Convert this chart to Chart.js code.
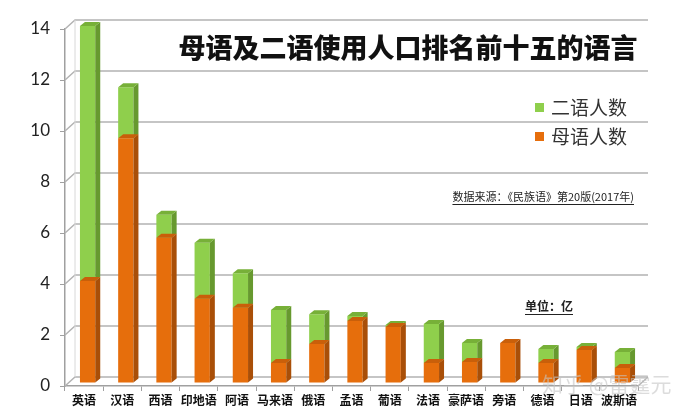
<!DOCTYPE html>
<html>
<head>
<meta charset="utf-8">
<script src="https://cdn.jsdelivr.net/npm/chart.js@4/dist/chart.umd.min.js"></script>
<style>
html,body{margin:0;padding:0;background:#fff;}
#wrap{width:690px;height:413px;position:relative;}
</style>
</head>
<body>
<div id="wrap"><canvas id="c" width="690" height="413"></canvas></div>
<script>
// ---- data ----
const categories = ['英语','汉语','西语','印地语','阿语','马来语','俄语','孟语','葡语','法语','豪萨语','旁语','德语','日语','波斯语'];
const nativeSpeakers = [4.0, 9.6, 5.7, 3.3, 2.95, 0.78, 1.53, 2.43, 2.2, 0.78, 0.82, 1.57, 0.78, 1.29, 0.59];
const secondSpeakers = [10.0, 2.0, 0.9, 2.2, 1.35, 2.08, 1.17, 0.2, 0.07, 1.53, 0.75, 0, 0.55, 0.12, 0.63];
const yTicks = [0, 2, 4, 6, 8, 10, 12, 14];
const seriesNames = ['母语人数', '二语人数'];
const titleText = '母语及二语使用人口排名前十五的语言';
const sourceText = '数据来源：《民族语》第20版(2017年)';
const unitText = '单位：亿';
const watermark = '知乎 @雷霆元';

// ---- style ----
const ORANGE = '#E66E0C', ORANGE_SIDE = '#A94F08', ORANGE_TOP = '#C95F0A';
const GREEN = '#8FCF4C', GREEN_SIDE = '#67992F', GREEN_TOP = '#77B038';
const DEPTH_X = 10, DEPTH_Y = 9;      // wall depth
const BAR_DX = 5, BAR_DY = 4;         // bar depth
const BAR_SHIFT_X = 3.5, BAR_SHIFT_Y = -3;

const wallPlugin = {
  id: 'wall',
  beforeDatasetsDraw(chart) {
    const ctx = chart.ctx, y = chart.scales.y, a = chart.chartArea;
    ctx.save();
    ctx.strokeStyle = '#b3b3b3';
    ctx.lineWidth = 1.5;
    yTicks.forEach(v => {
      const py = y.getPixelForValue(v);
      ctx.beginPath();
      ctx.moveTo(a.left, py);
      ctx.lineTo(a.left + DEPTH_X, py - DEPTH_Y);
      ctx.lineTo(a.right + DEPTH_X, py - DEPTH_Y);
      ctx.stroke();
    });
    const p0 = y.getPixelForValue(0);
    ctx.beginPath();
    ctx.moveTo(a.right, p0);
    ctx.lineTo(a.right + DEPTH_X, p0 - DEPTH_Y);
    ctx.stroke();
    ctx.strokeStyle = '#d8d8d8';
    ctx.lineWidth = 1;
    ctx.beginPath();
    ctx.moveTo(a.left + DEPTH_X, y.getPixelForValue(14) - DEPTH_Y);
    ctx.lineTo(a.left + DEPTH_X, p0 - DEPTH_Y);
    ctx.stroke();
    ctx.restore();
    // shift bars to mid-depth
    ctx.save();
    ctx.translate(BAR_SHIFT_X, BAR_SHIFT_Y);
  },
  afterDatasetDraw(chart, args) {
    const ctx = chart.ctx;
    const meta = args.meta;
    const side = args.index === 0 ? ORANGE_SIDE : GREEN_SIDE;
    const top = args.index === 0 ? ORANGE_TOP : GREEN_TOP;
    meta.data.forEach((bar, i) => {
      const p = bar.getProps(['x','y','base','width'], true);
      if (Math.abs(p.base - p.y) < 0.5) return;
      const l = p.x - p.width / 2, r = p.x + p.width / 2;
      ctx.fillStyle = side;
      ctx.beginPath();
      ctx.moveTo(r, p.y);
      ctx.lineTo(r + BAR_DX, p.y - BAR_DY);
      ctx.lineTo(r + BAR_DX, p.base - BAR_DY);
      ctx.lineTo(r, p.base);
      ctx.closePath();
      ctx.fill();
      ctx.fillStyle = top;
      ctx.beginPath();
      ctx.moveTo(l, p.y);
      ctx.lineTo(l + BAR_DX, p.y - BAR_DY);
      ctx.lineTo(r + BAR_DX, p.y - BAR_DY);
      ctx.lineTo(r, p.y);
      ctx.closePath();
      ctx.fill();
    });
  },
  afterDatasetsDraw(chart) {
    chart.ctx.restore();
  },
  afterDraw(chart) {
    const ctx = chart.ctx;
    ctx.save();
    // title
    ctx.fillStyle = '#111';
    ctx.font = '900 27px "Noto Sans CJK SC"';
    ctx.textAlign = 'center';
    ctx.textBaseline = 'middle';
    ctx.fillText(titleText, 408, 48);
    // legend
    const legend = [[seriesNames[1], GREEN, 108], [seriesNames[0], ORANGE, 137]];
    ctx.font = '19px "Noto Sans CJK SC"';
    ctx.textAlign = 'left';
    legend.forEach(([t, c, yy]) => {
      ctx.fillStyle = c;
      ctx.fillRect(535, yy - 5, 9, 9);
      ctx.fillStyle = '#333';
      ctx.fillText(t, 551, yy);
    });
    // source
    ctx.font = '11px "Noto Sans CJK SC"';
    ctx.fillStyle = '#222';
    ctx.textAlign = 'right';
    ctx.fillText(sourceText, 634, 197);
    let w = ctx.measureText(sourceText).width;
    ctx.fillRect(634 - w, 204, w, 1);
    // unit
    ctx.font = 'bold 12px "Noto Sans CJK SC"';
    ctx.textAlign = 'center';
    ctx.fillText(unitText, 549, 306);
    w = ctx.measureText(unitText).width;
    ctx.fillRect(549 - w / 2, 314, w, 1);
    // watermark
    ctx.globalAlpha = 0.6;
    ctx.fillStyle = '#c4c4c4';
    ctx.font = '21px "Noto Sans CJK SC"';
    ctx.textAlign = 'left';
    ctx.fillText(watermark, 542, 384);
    ctx.restore();
  }
};

new Chart(document.getElementById('c'), {
  type: 'bar',
  data: {
    labels: categories,
    datasets: [
      { label: seriesNames[0], data: nativeSpeakers, backgroundColor: ORANGE, borderWidth: 0 },
      { label: seriesNames[1], data: secondSpeakers, backgroundColor: GREEN, borderWidth: 0 }
    ]
  },
  options: {
    responsive: false,
    animation: false,
    layout: { padding: { top: 29, right: 52, left: 0, bottom: 0 } },
    datasets: { bar: { barPercentage: 0.4, categoryPercentage: 1.0 } },
    plugins: {
      legend: { display: false },
      title: { display: false },
      tooltip: { enabled: false }
    },
    scales: {
      x: {
        stacked: true,
        afterFit(s) { s.height = 27; },
        grid: { drawOnChartArea: false, tickLength: 5, color: '#a0a0a0', offset: true },
        border: { color: '#a0a0a0', width: 1.5 },
        ticks: { color: '#111', padding: 2, font: { family: '"Noto Sans CJK SC"', size: 12, weight: 'bold' }, maxRotation: 0, autoSkip: false }
      },
      y: {
        stacked: true,
        min: 0, max: 14,
        afterFit(s) { s.width = 65; },
        afterBuildTicks(s) { s.ticks = yTicks.map(v => ({ value: v })); },
        grid: { drawOnChartArea: false, tickLength: 5, color: '#a0a0a0' },
        border: { color: '#a0a0a0', width: 1.5 },
        ticks: { color: '#222', padding: 10, font: { family: 'Lato', size: 17 } }
      }
    }
  },
  plugins: [wallPlugin]
});
</script>
</body>
</html>
